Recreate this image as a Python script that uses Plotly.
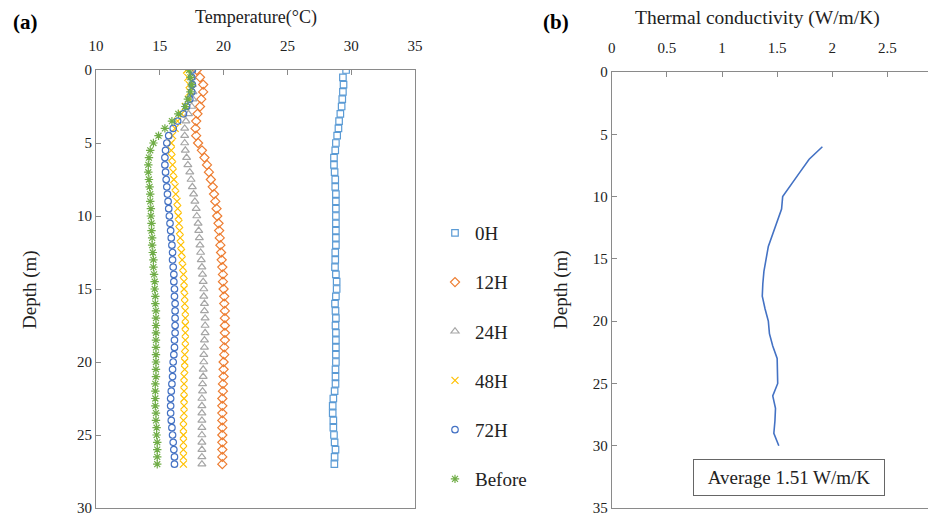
import plotly.graph_objects as go

# ---------------- data ----------------
depth = [0, 0.5, 1, 1.5, 2, 2.5, 3, 3.5, 4, 4.5, 5, 5.5, 6, 6.5, 7, 7.5, 8, 8.5, 9, 9.5,
         10, 10.5, 11, 11.5, 12, 12.5, 13, 13.5, 14, 14.5, 15, 15.5, 16, 16.5, 17, 17.5,
         18, 18.5, 19, 19.5, 20, 20.5, 21, 21.5, 22, 22.5, 23, 23.5, 24, 24.5, 25, 25.5,
         26, 26.5, 27]

t_0h = [29.6, 29.35, 29.4, 29.35, 29.3, 29.25, 29.15, 29.05, 29.0, 28.9, 28.8, 28.75, 28.65, 28.65,
        28.7, 28.75, 28.75, 28.8, 28.8, 28.8, 28.8, 28.8, 28.8, 28.8, 28.8, 28.75, 28.75, 28.73,
        28.8, 28.86, 28.86, 28.8, 28.73, 28.77, 28.8, 28.77, 28.8, 28.8, 28.8, 28.8, 28.8, 28.77,
        28.77, 28.77, 28.7, 28.6, 28.55, 28.55, 28.6, 28.6, 28.65, 28.7, 28.77, 28.7, 28.68]

t_12h = [17.9, 18.15, 18.4, 18.4, 18.25, 18.15, 17.95, 17.85, 17.8, 17.85, 18.0, 18.3, 18.5, 18.7,
         18.85, 19.0, 19.15, 19.25, 19.35, 19.45, 19.5, 19.6, 19.65, 19.7, 19.75, 19.8, 19.85, 19.9,
         19.95, 19.95, 20.0, 20.05, 20.05, 20.1, 20.1, 20.1, 20.1, 20.1, 20.05, 20.05, 20.0, 20.0,
         20.0, 19.95, 19.95, 19.9, 19.9, 19.9, 19.9, 19.9, 19.9, 19.9, 19.9, 19.9, 19.9]

t_24h = [17.5, 17.5, 17.55, 17.6, 17.6, 17.5, 17.25, 17.05, 16.95, 16.95, 16.95, 17.0, 17.1, 17.2,
         17.35, 17.45, 17.55, 17.65, 17.75, 17.85, 17.9, 18.0, 18.05, 18.1, 18.15, 18.2, 18.25, 18.3,
         18.35, 18.4, 18.45, 18.45, 18.5, 18.5, 18.55, 18.55, 18.55, 18.5, 18.5, 18.45, 18.45, 18.4,
         18.4, 18.35, 18.35, 18.3, 18.3, 18.3, 18.3, 18.3, 18.3, 18.3, 18.3, 18.3, 18.3]

t_48h = [17.1, 17.2, 17.3, 17.35, 17.25, 17.0, 16.7, 16.4, 16.2, 16.0, 15.9, 15.9, 15.95, 16.0,
         16.05, 16.1, 16.2, 16.25, 16.35, 16.4, 16.45, 16.5, 16.55, 16.6, 16.65, 16.7, 16.75, 16.8,
         16.85, 16.9, 16.9, 16.95, 16.95, 17.0, 17.0, 17.0, 17.0, 17.0, 17.0, 16.95, 16.95, 16.95,
         16.9, 16.9, 16.9, 16.9, 16.9, 16.9, 16.85, 16.85, 16.85, 16.85, 16.85, 16.85, 16.85]

t_72h = [17.55, 17.5, 17.55, 17.5, 17.35, 17.1, 16.85, 16.4, 16.05, 15.7, 15.55, 15.45, 15.4, 15.4,
         15.45, 15.5, 15.55, 15.6, 15.65, 15.7, 15.75, 15.8, 15.85, 15.9, 15.95, 16.0, 16.0, 16.05,
         16.1, 16.1, 16.15, 16.15, 16.2, 16.2, 16.2, 16.2, 16.2, 16.15, 16.15, 16.1, 16.05, 16.0,
         16.0, 15.95, 15.9, 15.85, 15.85, 15.85, 15.9, 15.95, 16.0, 16.05, 16.1, 16.15, 16.15]

t_before = [17.3, 17.4, 17.5, 17.4, 17.2, 17.0, 16.45, 15.95, 15.4, 14.9, 14.5, 14.25, 14.15, 14.1,
            14.1, 14.15, 14.2, 14.25, 14.25, 14.3, 14.3, 14.35, 14.35, 14.4, 14.4, 14.45, 14.5, 14.5,
            14.55, 14.6, 14.6, 14.65, 14.65, 14.7, 14.7, 14.7, 14.7, 14.7, 14.7, 14.7, 14.7, 14.7,
            14.7, 14.65, 14.65, 14.65, 14.65, 14.7, 14.7, 14.75, 14.75, 14.8, 14.8, 14.8, 14.8]

series_names = ["0H", "12H", "24H", "48H", "72H", "Before"]

k_depth = [6, 7, 8, 9, 10, 11, 12, 13, 14, 15, 16, 17, 18, 19, 20, 21, 22, 23, 24, 25, 26, 27, 28, 29, 30]
k_value = [1.91, 1.79, 1.71, 1.63, 1.55, 1.54, 1.50, 1.46, 1.42, 1.40, 1.38, 1.37, 1.365, 1.39,
           1.42, 1.43, 1.46, 1.50, 1.50, 1.505, 1.46, 1.485, 1.48, 1.47, 1.515]

temp_ticks = [10, 15, 20, 25, 30, 35]
depth_ticks_a = [0, 5, 10, 15, 20, 25, 30]
k_ticks = [0, 0.5, 1, 1.5, 2, 2.5]
k_tick_text = ["0", "0.5", "1", "1.5", "2", "2.5"]
depth_ticks_b = [0, 5, 10, 15, 20, 25, 30, 35]

# ---------------- styling ----------------
OFF = 8                      # default page margin of the html body
W, H = 936 - OFF, 518 - OFF  # figure fills the rest of the window
FONT = "Liberation Serif, Times New Roman, serif"
AX = "#8a8a8a"
TXT = "#222222"

styles = [
    dict(symbol="square-open", color="#5B9BD5", size=6.5),
    dict(symbol="diamond-open", color="#ED7D31", size=7),
    dict(symbol="triangle-up-open", color="#A5A5A5", size=7),
    dict(symbol="x-thin-open", color="#FFC000", size=7),
    dict(symbol="circle-open", color="#4472C4", size=6.5),
    dict(symbol="asterisk-open", color="#70AD47", size=7),
]
temps = [t_0h, t_12h, t_24h, t_48h, t_72h, t_before]

fig = go.Figure()
for name, tv, st in zip(series_names, temps, styles):
    fig.add_trace(go.Scatter(
        x=tv, y=depth, mode="markers", name=name, legendgroup=name,
        marker=dict(symbol=st["symbol"], size=st["size"], color=st["color"],
                    line=dict(color=st["color"], width=1.2)),
        xaxis="x", yaxis="y",
    ))

fig.add_trace(go.Scatter(
    x=k_value, y=k_depth, mode="lines", showlegend=False,
    line=dict(color="#4472C4", width=1.6),
    xaxis="x2", yaxis="y2",
))

def px_x(p):
    return min(1.0, (p - OFF) / W)

def px_y(p):
    return 1 - (p - OFF) / H

axis_common = dict(showline=True, linecolor=AX, linewidth=1, ticks="inside", ticklen=5,
                   tickcolor=AX, showgrid=False, zeroline=False, automargin=False,
                   tickfont=dict(family=FONT, size=15, color=TXT))

fig.update_layout(
    width=W, height=H,
    margin=dict(l=0, r=0, t=0, b=0, pad=0),
    paper_bgcolor="white", plot_bgcolor="white",
    font=dict(family=FONT, color=TXT),
    xaxis=dict(domain=[px_x(96), px_x(415)], range=[10, 35], side="top",
               tickvals=temp_ticks, mirror=True, anchor="y", ticklabelstandoff=12,
               **axis_common),
    yaxis=dict(domain=[px_y(508), px_y(70)], range=[30, 0],
               tickvals=depth_ticks_a, mirror=True, anchor="x", **axis_common),
    xaxis2=dict(domain=[px_x(611.7), 1.0], range=[0, 2.94], side="top",
                tickvals=k_ticks, ticktext=k_tick_text, mirror=True, anchor="y2",
                ticklabelstandoff=12, **axis_common),
    yaxis2=dict(domain=[px_y(508), px_y(72)], range=[35, 0],
                tickvals=depth_ticks_b, mirror=False, anchor="x2", **axis_common),
    legend=dict(x=px_x(435), y=px_y(214), xanchor="left", yanchor="top",
                font=dict(family=FONT, size=19, color=TXT), tracegroupgap=21.5,
                bgcolor="rgba(0,0,0,0)", itemwidth=30),
    showlegend=True,
)

def label(text, x, y, size, angle=0, color=TXT):
    return dict(text=text, x=px_x(x), y=px_y(y), xref="paper", yref="paper",
                xanchor="center", yanchor="middle", textangle=angle,
                showarrow=False, font=dict(family=FONT, size=size, color=color))

annotations = [
    label("Temperature(°C)", 256, 17, 18),
    label("Thermal conductivity (W/m/K)", 757, 18, 19.5),
    label("Depth (m)", 30, 290, 19, angle=-90),
    label("Depth (m)", 561, 290, 19, angle=-90),
    label("<b>(a)</b>", 25, 22, 21, color="#000"),
    label("<b>(b)</b>", 556, 22, 21, color="#000"),
    dict(text="Average 1.51 W/m/K", x=1.61, y=32.56, xref="x2", yref="y2",
         xanchor="center", yanchor="middle",
         showarrow=False, font=dict(family=FONT, size=19, color=TXT),
         bordercolor="#666", borderwidth=1, borderpad=5, width=180, height=25,
         bgcolor="white"),
]
fig.update_layout(annotations=annotations)

fig.write_html("out.html")
